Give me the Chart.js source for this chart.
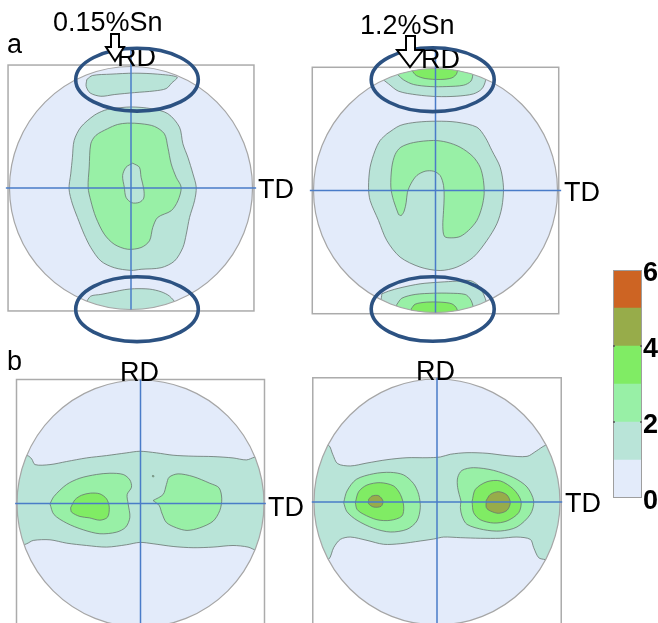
<!DOCTYPE html>
<html>
<head>
<meta charset="utf-8">
<script src="https://cdn.jsdelivr.net/npm/chart.js@4.4.1/dist/chart.umd.min.js"></script>
<style>
  html, body { margin: 0; padding: 0; background: #ffffff; }
  body { width: 658px; height: 623px; position: relative; overflow: hidden;
         font-family: "Liberation Sans", Arial, sans-serif; }
  canvas { position: absolute; }
  .lbl { position: absolute; font-size: 27px; line-height: 27px; color: #000; white-space: nowrap; }
  svg.marks { position: absolute; left: 0; top: 0; }
</style>
</head>
<body>
<div class="lbl" style="left:53px;top:9px">0.15%Sn</div>
<div class="lbl" style="left:360px;top:12px">1.2%Sn</div>
<div class="lbl" style="left:7px;top:31px">a</div>
<div class="lbl" style="left:7px;top:348px">b</div>
<div class="lbl" style="left:117px;top:44px">RD</div>
<div class="lbl" style="left:421px;top:46px">RD</div>
<div class="lbl" style="left:258px;top:176px">TD</div>
<div class="lbl" style="left:564px;top:179px">TD</div>
<div class="lbl" style="left:120px;top:359px">RD</div>
<div class="lbl" style="left:416px;top:358px">RD</div>
<div class="lbl" style="left:268px;top:494px">TD</div>
<div class="lbl" style="left:565px;top:490px">TD</div>

<svg class="marks" width="658" height="623" xmlns="http://www.w3.org/2000/svg">
  <g fill="none" stroke="#2C5282" stroke-width="3.6">
    <ellipse cx="137" cy="79.7" rx="61.3" ry="31.4"/>
    <ellipse cx="137" cy="309.2" rx="61.3" ry="32.4"/>
    <ellipse cx="432.7" cy="79.7" rx="61.5" ry="31.9"/>
    <ellipse cx="432.7" cy="309" rx="61.5" ry="32.3"/>
  </g>
  <g fill="#ffffff" stroke="#000000" stroke-width="2" stroke-linejoin="miter">
    <path d="M111,34 L119,34 L119,47 L124,47 L115,61 L106,47 L111,47 Z"/>
    <path d="M406,36 L415,36 L415,50 L423,50 L410,67 L397,50 L406,50 Z"/>
  </g>
</svg>

<script>
// Intensity classes of the pole figures (multiples of random) and colour bar ticks
const colorbarLevels = [0, 1, 2, 3, 4, 5, 6];
const colorbarTicks = [0, 2, 4, 6];

// Contour outlines in pole-figure coordinates (unit circle, x = TD, y = RD)
// (a) 0.15%Sn
const a015Top1 = [[-0.364,0.893],[-0.317,0.926],[-0.165,0.937],[0.028,0.945],[0.220,0.937],[0.380,0.912],[0.336,0.865],[0.289,0.818],[0.193,0.799],[0.028,0.785],[-0.138,0.769],[-0.248,0.755],[-0.336,0.782],[-0.369,0.837]];
const a015Mid1 = [[-0.165,0.653],[0,0.667],[0.165,0.653],[0.303,0.612],[0.399,0.501],[0.427,0.364],[0.468,0.253],[0.510,0.116],[0.537,0.006],[0.523,-0.105],[0.482,-0.242],[0.455,-0.380],[0.427,-0.490],[0.358,-0.601],[0.248,-0.656],[0.083,-0.669],[0,-0.678],[-0.138,-0.656],[-0.248,-0.601],[-0.331,-0.490],[-0.386,-0.380],[-0.441,-0.242],[-0.482,-0.132],[-0.510,-0.008],[-0.496,0.116],[-0.482,0.253],[-0.468,0.391],[-0.413,0.501],[-0.303,0.598],[-0.220,0.639]];
const a015Mid2 = [[-0.344,0.171],[-0.331,0.364],[-0.289,0.433],[-0.193,0.488],[-0.110,0.523],[-0.028,0.534],[0.083,0.529],[0.193,0.507],[0.275,0.446],[0.303,0.336],[0.331,0.198],[0.372,0.088],[0.413,0.006],[0.386,-0.105],[0.331,-0.187],[0.220,-0.242],[0.179,-0.325],[0.152,-0.435],[0.083,-0.490],[-0.028,-0.504],[-0.138,-0.463],[-0.220,-0.380],[-0.289,-0.242],[-0.331,-0.105],[-0.353,0.006]];
const a015Hole1 = [[0.014,0.204],[0.069,0.171],[0.083,0.088],[0.105,-0.008],[0.105,-0.083],[0.069,-0.118],[0.006,-0.121],[-0.041,-0.077],[-0.055,0.006],[-0.069,0.102],[-0.041,0.171]];
const a015Bot1 = [[-0.372,-0.945],[-0.331,-0.890],[-0.248,-0.876],[-0.138,-0.854],[-0.055,-0.837],[0.028,-0.829],[0.152,-0.832],[0.248,-0.854],[0.317,-0.890],[0.372,-0.959],[0.40,-1.1],[-0.40,-1.1]];

// (a) 1.2%Sn
const a12Top1 = [[-0.454,0.929],[-0.385,0.874],[-0.303,0.814],[-0.153,0.784],[0.011,0.770],[0.175,0.773],[0.311,0.792],[0.380,0.833],[0.410,0.902],[0.42,1.07],[-0.454,1.07]];
const a12Top2 = [[-0.311,0.951],[-0.262,0.907],[-0.180,0.869],[-0.044,0.852],[0.093,0.852],[0.230,0.863],[0.290,0.896],[0.306,0.951],[0.31,1.07],[-0.31,1.07]];
const a12Top3 = [[-0.194,0.984],[-0.158,0.943],[-0.085,0.918],[0.038,0.910],[0.134,0.923],[0.175,0.962],[0.18,1.07],[-0.2,1.07]];
const a12Mid1 = [[-0.399,0.464],[-0.290,0.533],[-0.153,0.560],[0.011,0.568],[0.175,0.560],[0.339,0.519],[0.407,0.437],[0.462,0.328],[0.530,0.191],[0.557,0.027],[0.544,-0.137],[0.503,-0.273],[0.421,-0.410],[0.311,-0.546],[0.175,-0.628],[0.038,-0.656],[-0.126,-0.628],[-0.290,-0.546],[-0.399,-0.410],[-0.467,-0.246],[-0.536,-0.082],[-0.549,0.027],[-0.536,0.191],[-0.495,0.328],[-0.454,0.410]];
const a12Mid2 = [[-0.303,-0.197],[-0.344,-0.082],[-0.366,0.027],[-0.358,0.191],[-0.331,0.295],[-0.284,0.355],[-0.180,0.393],[-0.016,0.410],[0.093,0.396],[0.202,0.355],[0.306,0.279],[0.366,0.191],[0.393,0.082],[0.399,-0.027],[0.380,-0.137],[0.339,-0.246],[0.270,-0.328],[0.202,-0.377],[0.134,-0.388],[0.074,-0.377],[0.060,-0.295],[0.066,-0.164],[0.071,-0.055],[0.066,0.041],[0.038,0.123],[-0.016,0.158],[-0.085,0.158],[-0.153,0.123],[-0.199,0.060],[-0.230,-0.014],[-0.240,-0.096],[-0.257,-0.169],[-0.281,-0.205]];
const a12Bot1 = [[-0.440,-0.847],[-0.385,-0.825],[-0.290,-0.798],[-0.126,-0.765],[0.038,-0.751],[0.175,-0.743],[0.284,-0.738],[0.352,-0.779],[0.393,-0.847],[0.421,-0.929],[0.45,-1.1],[-0.45,-1.1]];
const a12Bot2 = [[-0.317,-0.934],[-0.276,-0.883],[-0.167,-0.852],[-0.016,-0.842],[0.120,-0.842],[0.243,-0.852],[0.284,-0.888],[0.306,-0.943],[0.32,-1.1],[-0.33,-1.1]];
const a12Bot3 = [[-0.199,-0.970],[-0.167,-0.932],[-0.071,-0.915],[0.038,-0.915],[0.134,-0.929],[0.175,-0.970],[0.19,-1.1],[-0.2,-1.1]];

// (b) 0.15%Sn
const b015Band1 = [[-1.03,0.388],[-0.916,0.388],[-0.881,0.361],[-0.854,0.315],[-0.733,0.315],[-0.598,0.340],[-0.437,0.369],[-0.275,0.388],[-0.113,0.410],[-0.005,0.423],[0.129,0.410],[0.264,0.391],[0.426,0.383],[0.588,0.380],[0.749,0.369],[0.857,0.353],[0.925,0.375],[1.03,0.388],
  [1.03,-0.394],[0.938,-0.380],[0.871,-0.353],[0.749,-0.340],[0.588,-0.353],[0.426,-0.358],[0.264,-0.348],[0.102,-0.326],[-0.005,-0.315],[-0.113,-0.334],[-0.275,-0.353],[-0.437,-0.340],[-0.598,-0.321],[-0.733,-0.294],[-0.868,-0.299],[-0.922,-0.326],[-1.03,-0.353]];
const b015Left2 = [[-0.733,-0.003],[-0.701,0.057],[-0.598,0.154],[-0.491,0.205],[-0.356,0.235],[-0.248,0.245],[-0.140,0.235],[-0.086,0.191],[-0.073,0.132],[-0.108,0.073],[-0.100,-0.003],[-0.086,-0.111],[-0.119,-0.191],[-0.194,-0.232],[-0.329,-0.245],[-0.464,-0.213],[-0.598,-0.159],[-0.701,-0.089]];
const b015Left3 = [[-0.566,-0.035],[-0.531,0.030],[-0.477,0.067],[-0.404,0.084],[-0.329,0.078],[-0.275,0.038],[-0.253,-0.030],[-0.267,-0.111],[-0.329,-0.135],[-0.415,-0.116],[-0.491,-0.105],[-0.558,-0.070]];
const b015Right2 = [[0.102,0.024],[0.183,0.073],[0.210,0.154],[0.232,0.213],[0.305,0.240],[0.426,0.218],[0.561,0.164],[0.636,0.127],[0.658,0.038],[0.642,-0.057],[0.588,-0.143],[0.480,-0.197],[0.377,-0.218],[0.291,-0.197],[0.210,-0.154],[0.173,-0.078],[0.151,-0.016]];
const b015Speck2 = [[0.097,0.227],[0.108,0.225],[0.107,0.216],[0.097,0.217]];

// (b) 1.2%Sn
const b12Band1 = [[-1.003,0.496],[-0.881,0.461],[-0.848,0.388],[-0.808,0.312],[-0.705,0.293],[-0.569,0.317],[-0.407,0.344],[-0.244,0.360],[-0.081,0.360],[0.027,0.366],[0.108,0.388],[0.244,0.401],[0.407,0.396],[0.569,0.377],[0.732,0.371],[0.808,0.415],[0.881,0.461],[1.003,0.496],
  [1.003,-0.507],[0.881,-0.469],[0.827,-0.453],[0.786,-0.371],[0.759,-0.304],[0.650,-0.285],[0.515,-0.295],[0.352,-0.295],[0.190,-0.290],[0.054,-0.285],[-0.027,-0.301],[-0.136,-0.317],[-0.298,-0.339],[-0.434,-0.344],[-0.569,-0.312],[-0.705,-0.285],[-0.786,-0.304],[-0.840,-0.371],[-0.881,-0.466],[-1.003,-0.507]];
const b12Left2 = [[-0.759,-0.005],[-0.732,0.089],[-0.656,0.184],[-0.515,0.230],[-0.379,0.241],[-0.271,0.220],[-0.190,0.149],[-0.149,0.062],[-0.136,-0.046],[-0.163,-0.154],[-0.244,-0.222],[-0.379,-0.244],[-0.515,-0.214],[-0.650,-0.149],[-0.732,-0.079]];
const b12Left3 = [[-0.664,-0.005],[-0.637,0.084],[-0.569,0.138],[-0.461,0.157],[-0.352,0.130],[-0.298,0.062],[-0.271,-0.033],[-0.285,-0.114],[-0.379,-0.149],[-0.488,-0.144],[-0.596,-0.100],[-0.650,-0.060]];
const b12Left4 = [[-0.556,0.022],[-0.528,0.049],[-0.474,0.051],[-0.439,0.008],[-0.455,-0.035],[-0.515,-0.041],[-0.556,-0.014]];
const b12Right2 = [[0.195,0.008],[0.168,0.117],[0.168,0.198],[0.203,0.257],[0.298,0.279],[0.461,0.257],[0.623,0.198],[0.732,0.122],[0.786,0.008],[0.759,-0.100],[0.650,-0.203],[0.515,-0.236],[0.379,-0.225],[0.244,-0.182],[0.203,-0.114],[0.190,-0.046]];
const b12Right3 = [[0.285,0.003],[0.312,0.103],[0.407,0.165],[0.515,0.171],[0.623,0.103],[0.683,0.008],[0.664,-0.087],[0.569,-0.154],[0.461,-0.171],[0.352,-0.144],[0.298,-0.087]];
const b12Right4 = [[0.401,0.014],[0.434,0.062],[0.501,0.084],[0.569,0.057],[0.596,-0.005],[0.569,-0.068],[0.501,-0.092],[0.434,-0.073],[0.401,-0.046]];

// Styling
const LEVEL_FILL = ['#E3EBFA', '#B9E4D8', '#98F0A6', '#80EC64', '#97AC4A', '#CD6423'];
const CONTOUR_LINE = 'rgba(105,118,112,0.8)';
const FRAME_GREY = '#ABABAB';
const AXIS_BLUE = '#4A7CC8';
const FONT = '"Liberation Sans", Arial, sans-serif';

// Panel layout: centre and radius in page pixels, frame extents in units of the radius
const panels = [
  { cx: 130.5, cy: 188, r: 121.5, box: 1.012, hLine: 1.03, vTop: 1.135, vBot: 1.0,
    layers: [[1, a015Top1], [1, a015Mid1], [2, a015Mid2], [1, a015Hole1], [1, a015Bot1]] },
  { cx: 435.3, cy: 190, r: 122, box: 1.01, hLine: 1.03, vTop: 1.16, vBot: 1.0,
    layers: [[1, a12Top1], [2, a12Top2], [3, a12Top3], [1, a12Mid1], [2, a12Mid2],
             [1, a12Bot1], [2, a12Bot2], [3, a12Bot3]] },
  { cx: 140.5, cy: 503, r: 123.5, box: 1.004, hLine: 1.015, vTop: 1.004, vBot: 1.2,
    layers: [[1, b015Band1], [2, b015Left2], [3, b015Left3], [2, b015Right2], [2, b015Speck2]] },
  { cx: 436.7, cy: 502, r: 123, box: 1.01, hLine: 1.018, vTop: 1.01, vBot: 1.2,
    layers: [[1, b12Band1], [2, b12Left2], [3, b12Left3], [4, b12Left4],
             [2, b12Right2], [3, b12Right3], [4, b12Right4]] }
];

// Disk, clipping, frame and reference axes of a pole figure
const poleFrame = {
  id: 'poleFrame',
  beforeDatasetsDraw(chart, args, opts) {
    const { ctx, scales: { x, y } } = chart;
    const cx = x.getPixelForValue(0), cy = y.getPixelForValue(0);
    const r = x.getPixelForValue(1) - cx;
    ctx.save();
    ctx.beginPath();
    ctx.arc(cx, cy, r, 0, Math.PI * 2);
    ctx.fillStyle = LEVEL_FILL[0];
    ctx.fill();
    ctx.clip();
  },
  afterDatasetsDraw(chart, args, opts) {
    const { ctx, scales: { x, y } } = chart;
    ctx.restore();
    const cx = x.getPixelForValue(0), cy = y.getPixelForValue(0);
    const r = x.getPixelForValue(1) - cx;
    ctx.save();
    // circle outline
    ctx.beginPath();
    ctx.arc(cx, cy, r, 0, Math.PI * 2);
    ctx.strokeStyle = '#A6A6A6';
    ctx.lineWidth = 1.2;
    ctx.stroke();
    // square frame
    const x0 = x.getPixelForValue(-opts.box), x1 = x.getPixelForValue(opts.box);
    const y0 = y.getPixelForValue(opts.box), y1 = y.getPixelForValue(-opts.box);
    ctx.strokeStyle = FRAME_GREY;
    ctx.lineWidth = 1.5;
    ctx.strokeRect(x0, y0, x1 - x0, y1 - y0);
    // RD / TD reference lines
    ctx.strokeStyle = AXIS_BLUE;
    ctx.lineWidth = 1.5;
    ctx.beginPath();
    ctx.moveTo(x.getPixelForValue(-opts.hLine), cy);
    ctx.lineTo(x.getPixelForValue(opts.hLine), cy);
    ctx.moveTo(cx, y.getPixelForValue(opts.vTop));
    ctx.lineTo(cx, y.getPixelForValue(-opts.vBot));
    ctx.stroke();
    ctx.restore();
  }
};

function contourDataset(level, pts, order) {
  const data = pts.map(p => ({ x: p[0], y: p[1] }));
  data.push({ x: pts[0][0], y: pts[0][1] });
  return {
    data, order,
    showLine: true,
    fill: 'shape',
    backgroundColor: LEVEL_FILL[level],
    borderColor: CONTOUR_LINE,
    borderWidth: 1,
    pointRadius: 0,
    tension: 0.3
  };
}

panels.forEach(p => {
  const size = Math.round(2 * 1.3 * p.r);
  const ext = size / (2 * p.r);
  const cv = document.createElement('canvas');
  cv.width = size; cv.height = size;
  cv.style.left = (p.cx - size / 2) + 'px';
  cv.style.top = (p.cy - size / 2) + 'px';
  cv.style.width = size + 'px'; cv.style.height = size + 'px';
  document.body.insertBefore(cv, document.body.firstChild);
  const n = p.layers.length;
  new Chart(cv, {
    type: 'scatter',
    data: { datasets: p.layers.map((l, i) => contourDataset(l[0], l[1], n - i)) },
    options: {
      responsive: false, animation: false, events: [],
      layout: { padding: 0 },
      plugins: {
        legend: { display: false }, tooltip: { enabled: false },
        poleFrame: { box: p.box, hLine: p.hLine, vTop: p.vTop, vBot: p.vBot }
      },
      scales: {
        x: { type: 'linear', min: -ext, max: ext, display: false },
        y: { type: 'linear', min: -ext, max: ext, display: false }
      }
    },
    plugins: [poleFrame]
  });
});

// Colour bar
const cbFrame = {
  id: 'cbFrame',
  afterDatasetsDraw(chart) {
    const { ctx, chartArea: a, scales: { y } } = chart;
    ctx.save();
    ctx.strokeStyle = '#9E9E9E';
    ctx.lineWidth = 1;
    ctx.strokeRect(a.left + 0.5, a.top + 0.5, a.right - a.left - 1, a.bottom - a.top - 1);
    ctx.strokeStyle = '#555555';
    ctx.lineWidth = 1.5;
    colorbarTicks.slice(1, -1).forEach(v => {
      const py = y.getPixelForValue(v);
      ctx.beginPath();
      ctx.moveTo(a.left, py); ctx.lineTo(a.left + 2, py);
      ctx.moveTo(a.right - 2, py); ctx.lineTo(a.right, py);
      ctx.stroke();
    });
    ctx.restore();
  }
};

const cb = document.createElement('canvas');
cb.width = 58; cb.height = 270;
cb.style.left = '600px'; cb.style.top = '250px';
cb.style.width = '58px'; cb.style.height = '270px';
document.body.appendChild(cb);
new Chart(cb, {
  type: 'bar',
  data: {
    labels: [''],
    datasets: colorbarLevels.slice(0, -1).map((lo, i) => ({
      data: [colorbarLevels[i + 1] - lo],
      backgroundColor: LEVEL_FILL[i],
      borderWidth: 0,
      barPercentage: 1,
      categoryPercentage: 1
    }))
  },
  options: {
    responsive: false, animation: false, events: [],
    layout: { padding: { top: 20, bottom: 22, left: 13, right: 0 } },
    plugins: { legend: { display: false }, tooltip: { enabled: false } },
    scales: {
      x: { stacked: true, display: false },
      y: {
        stacked: true, position: 'right',
        min: colorbarLevels[0], max: colorbarLevels[colorbarLevels.length - 1],
        grid: { display: false, drawTicks: false },
        border: { display: false },
        afterFit(s) { s.width = 16; },
        afterBuildTicks(s) { s.ticks = colorbarTicks.map(v => ({ value: v })); },
        ticks: { padding: 1, labelOffset: 4, color: '#000000',
                 font: { family: FONT, size: 27, weight: 'bold' } }
      }
    }
  },
  plugins: [cbFrame]
});
</script>
</body>
</html>
